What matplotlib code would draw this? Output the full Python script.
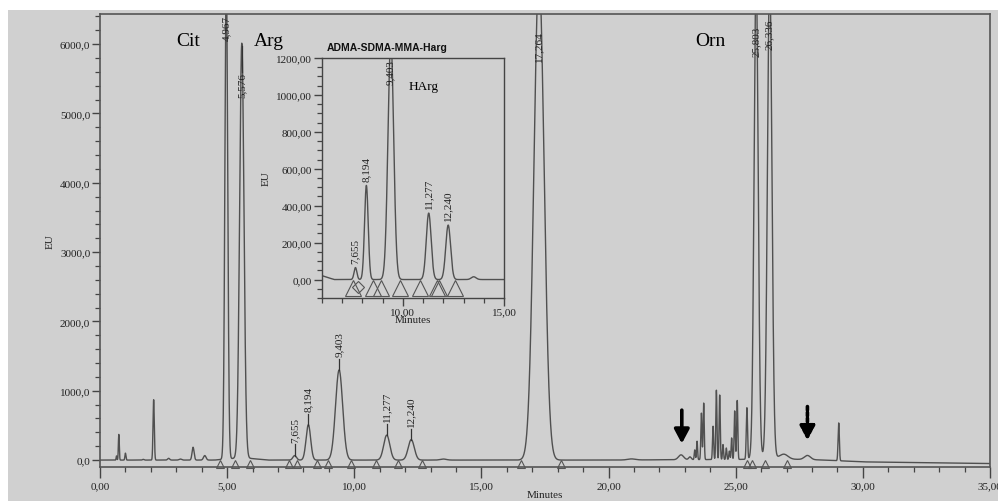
import numpy as np
import matplotlib
matplotlib.use("Agg")
import matplotlib.pyplot as plt
from matplotlib.ticker import MultipleLocator, FuncFormatter
from matplotlib.patches import Rectangle

# ---------------- data ----------------
# peak table: retention time (min), height (EU), width sigma (min)
peak_times = [0.65, 0.74, 1.00, 1.70, 2.11, 2.70, 3.16, 3.66, 4.12,
              4.967, 5.576, 7.655, 8.194, 9.403, 11.277, 12.240, 13.50,
              17.264, 20.90, 22.85, 23.20, 23.39, 23.48, 23.65, 23.74,
              24.11, 24.24, 24.37, 24.50, 24.63, 24.75, 24.84, 24.96,
              25.06, 25.44, 25.803, 26.336, 26.90, 27.82, 29.05]
peak_heights = [60, 370, 100, 10, 870, 25, 15, 185, 65,
                7000, 5980, 65, 510, 1300, 360, 295, 15,
                7000, 15, 70, 40, 140, 265, 670, 815,
                480, 1000, 930, 215, 165, 120, 310, 700,
                850, 740, 7000, 7000, 60, 60, 545]
peak_sigmas = [0.015, 0.018, 0.02, 0.03, 0.025, 0.04, 0.05, 0.04, 0.05,
               0.055, 0.085, 0.07, 0.09, 0.14, 0.12, 0.12, 0.12,
               0.20, 0.15, 0.10, 0.05, 0.02, 0.02, 0.022, 0.022,
               0.022, 0.022, 0.022, 0.02, 0.02, 0.02, 0.02, 0.022,
               0.022, 0.025, 0.08, 0.087, 0.15, 0.12, 0.025]

# baseline drift knots (min, EU)
base_times = [0.0, 4.5, 5.6, 6.6, 20.0, 25.3, 26.3, 27.3, 28.5, 30.0, 35.0]
base_values = [0, 0, 35, 0, 0, 10, 45, 12, 0, -26, -50]

# labelled peaks (main chart, medium)
label_times = [7.655, 8.194, 9.403, 11.277, 12.240]
label_texts = ["7,655", "8,194", "9,403", "11,277", "12,240"]
# labelled tall peaks: time, text, label top (EU)
tall_times = [4.967, 5.576, 17.264, 25.803, 26.336]
tall_texts = ["4,967", "5,576", "17,264", "25,803", "26,336"]
tall_tops = [6420, 5600, 6200, 6270, 6370]

# integration markers (main)
tri_main = [4.70, 5.29, 5.88, 7.45, 7.75, 8.55, 8.98, 9.88, 10.85, 11.72,
            12.68, 16.54, 18.11, 25.45, 25.65, 26.14, 27.0]
# integration markers (inset)
tri_inset = [7.54, 8.50, 8.94, 9.87, 10.85, 11.70, 11.80, 12.60]
diamond_inset = [7.78]

compound_names = ["Cit", "Arg", "Orn"]

# ---------------- build trace ----------------
t = np.linspace(0, 35, 14001)
y = np.interp(t, base_times, base_values).astype(float)
for tc, h, s in zip(peak_times, peak_heights, peak_sigmas):
    y += h * np.exp(-0.5 * ((t - tc) / s) ** 2)


def peak_height(tc):
    return float(np.interp(tc, t, y))


BG = "#d0d0d0"
TRACE = "#505050"
serif = ["Liberation Serif", "DejaVu Serif"]
plt.rcParams["font.family"] = serif

fig = plt.figure(figsize=(9.98, 5.02), dpi=100, facecolor=BG)
# white margins at top/left of the scan
fig.patches.append(Rectangle((0, 1 - 11 / 502), 1, 11 / 502, transform=fig.transFigure,
                             facecolor="white", edgecolor="none", zorder=-1))
fig.patches.append(Rectangle((0, 0), 8 / 998, 1, transform=fig.transFigure,
                             facecolor="white", edgecolor="none", zorder=-1))

ax = fig.add_axes([100 / 998, 1 - 468 / 502, 890 / 998, 453 / 502])
ax.set_facecolor(BG)
ax.plot(t, y, color=TRACE, lw=1.0)
ax.set_xlim(0, 35)
ax.set_ylim(-100, 6435)

ax.xaxis.set_major_locator(MultipleLocator(5))
ax.xaxis.set_minor_locator(MultipleLocator(1))
ax.yaxis.set_major_locator(MultipleLocator(1000))
ax.yaxis.set_minor_locator(MultipleLocator(200))
ax.xaxis.set_major_formatter(FuncFormatter(lambda v, p: f"{v:.2f}".replace(".", ",")))
ax.yaxis.set_major_formatter(FuncFormatter(lambda v, p: f"{v:.1f}".replace(".", ",")))
ax.tick_params(axis="both", which="major", direction="out", length=6, width=1,
               color="#444", labelsize=8, labelcolor="#222")
ax.tick_params(axis="both", which="minor", direction="out", length=3.5, width=0.9, color="#444")
ax.tick_params(axis="x", which="major", length=8, pad=2)
ax.tick_params(axis="y", which="major", pad=1)
for sp in ax.spines.values():
    sp.set_color("#555")
    sp.set_linewidth(1.2)
ax.set_xlabel("Minutes", fontsize=8, labelpad=0, color="#222")
ax.set_ylabel("EU", fontsize=8, labelpad=4, color="#222")

# integration markers
ax.plot(tri_main, [-50] * len(tri_main), linestyle="none", marker="^", markersize=5.5,
        markerfacecolor="none", markeredgecolor="#555", markeredgewidth=0.8, clip_on=False)

# medium peak labels with tick lines
for tc, txt in zip(label_times, label_texts):
    h = peak_height(tc)
    ax.plot([tc, tc], [h, h + 160], color="#333", lw=0.9)
    ax.text(tc, h + 200, txt, rotation=90, ha="center", va="bottom", fontsize=8, color="#222")

# tall peak labels
for tc, txt, top in zip(tall_times, tall_texts, tall_tops):
    ax.text(tc, top, txt, rotation=90, ha="center", va="top", fontsize=8, color="#222")
ax.plot([5.576, 5.576], [5600, 5980], color="#333", lw=0.9)

# compound names
ax.text(3.0, 6050, compound_names[0], fontsize=14, ha="left", va="center", color="black")
ax.text(6.05, 6050, compound_names[1], fontsize=14, ha="left", va="center", color="black")
ax.text(23.4, 6050, compound_names[2], fontsize=14, ha="left", va="center", color="black")

# arrows
ax.annotate("", xy=(22.88, 238), xytext=(22.88, 720),
            arrowprops=dict(arrowstyle="-|>,head_length=0.6,head_width=0.32", lw=2.6,
                            color="black", mutation_scale=14, shrinkA=0, shrinkB=0))
ax.annotate("", xy=(27.82, 286), xytext=(27.82, 772),
            arrowprops=dict(arrowstyle="-|>,head_length=0.6,head_width=0.32", lw=2.6,
                            linestyle=(0, (1, 0.6)), color="black", mutation_scale=14,
                            shrinkA=0, shrinkB=0))

# ---------------- inset ----------------
ins = fig.add_axes([322 / 998, 1 - 299 / 502, 182 / 998, 240 / 502])
ins.set_facecolor(BG)
ins.plot(t, y, color=TRACE, lw=1.0)
ins.set_xlim(6, 15)
ins.set_ylim(-100, 1200)
ins.xaxis.set_major_locator(MultipleLocator(5))
ins.xaxis.set_minor_locator(MultipleLocator(1))
ins.yaxis.set_major_locator(MultipleLocator(200))
ins.yaxis.set_minor_locator(MultipleLocator(50))
ins.xaxis.set_major_formatter(FuncFormatter(lambda v, p: f"{v:.2f}".replace(".", ",")))
ins.yaxis.set_major_formatter(FuncFormatter(lambda v, p: f"{v:.2f}".replace(".", ",")))
ins.tick_params(axis="both", which="major", direction="out", length=6, width=1,
                color="#444", labelsize=8, labelcolor="#222", pad=1)
ins.tick_params(axis="x", which="major", pad=0.5)
ins.tick_params(axis="both", which="minor", direction="out", length=3.5, width=0.9, color="#444")
for sp in ins.spines.values():
    sp.set_color("#444")
    sp.set_linewidth(1.0)
ins.set_xlabel("Minutes", fontsize=8, labelpad=-1, color="#222")
ins.set_ylabel("EU", fontsize=8, labelpad=4, color="#222")

ins.plot(tri_inset, [-45] * len(tri_inset), linestyle="none", marker="^", markersize=11,
         markerfacecolor="none", markeredgecolor="#555", markeredgewidth=0.8)
ins.plot(diamond_inset, [-40] * len(diamond_inset), linestyle="none", marker="D", markersize=6,
         markerfacecolor="none", markeredgecolor="#555", markeredgewidth=0.8)

for tc, txt in zip(label_times, label_texts):
    h = peak_height(tc)
    if h + 250 < 1200:
        ins.text(tc, h + 25, txt, rotation=90, ha="center", va="bottom", fontsize=8, color="#222")
    else:
        ins.text(tc, 1195, txt, rotation=90, ha="center", va="top", fontsize=8, color="#222")

ins.text(10.3, 1050, "HArg", fontsize=9.5, ha="left", va="center", color="black")
fig.text(327 / 998, 1 - 48 / 502, "ADMA-SDMA-MMA-Harg", fontsize=7.5, fontweight="bold",
         family=["Liberation Sans", "DejaVu Sans"], ha="left", va="center", color="#111")

fig.savefig("out.png", dpi=100, facecolor=BG)
